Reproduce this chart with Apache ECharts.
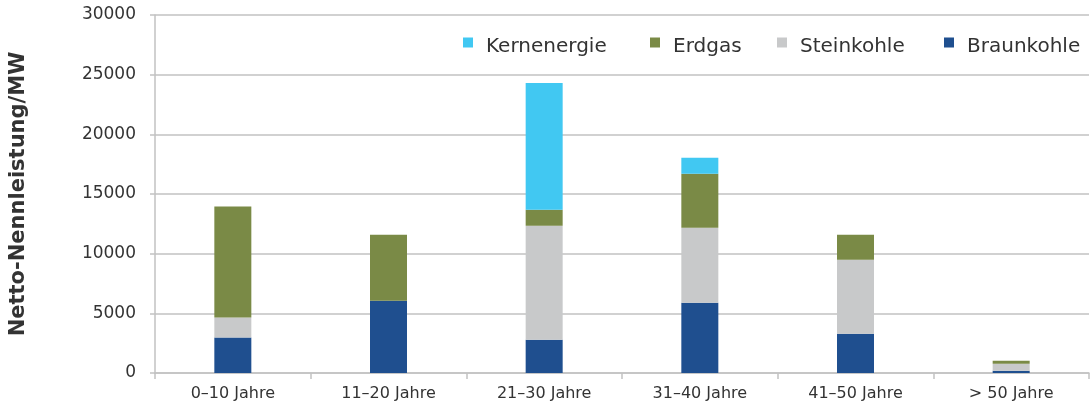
<!DOCTYPE html>
<html>
<head>
<meta charset="utf-8">
<script src="https://cdn.jsdelivr.net/npm/echarts@6/dist/echarts.min.js"></script>
<style>
  html, body { margin: 0; padding: 0; background: #fff; }
  #chart { width: 1092px; height: 405px; }
</style>
</head>
<body>
<div id="chart"></div>
<script>
// Altersstruktur der Kraftwerke, Netto-Nennleistung in MW
const categories = ['0–10 Jahre', '11–20 Jahre', '21–30 Jahre', '31–40 Jahre', '41–50 Jahre', '> 50 Jahre']
const braunkohle = [2980, 6060, 2790, 5890, 3290, 190]
const steinkohle = [1680, 0, 9550, 6280, 6200, 590]
const erdgas = [9290, 5520, 1340, 4520, 2090, 250]
const kernenergie = [0, 0, 10630, 1340, 0, 0]
const yTicks = [0, 5000, 10000, 15000, 20000, 25000, 30000]

const FONT = 'DejaVu Sans'
const TEXT = '#333333'
const GRID = '#c2c2c2'

const chart = echarts.init(document.getElementById('chart'), null, { renderer: 'canvas' })

function bar(name, data, color) {
    return {
        name: name,
        type: 'bar',
        stack: 'total',
        barWidth: 37,
        data: data,
        itemStyle: { color: color },
        emphasis: { disabled: true }
    }
}

// jede Legende einzeln platziert, damit die Abstände wie im Original sind
function legend(name, left) {
    return {
        data: [name],
        left: left,
        top: 37,
        icon: 'rect',
        itemWidth: 10,
        itemHeight: 10,
        padding: 0,
        formatter: '{a|{name}}',
        textStyle: {
            rich: {
                a: { fontSize: 20, color: TEXT, fontFamily: FONT, padding: [9, 0, 0, 8] }
            }
        }
    }
}

chart.setOption({
    animation: false,
    textStyle: { fontFamily: FONT },
    grid: { left: 155, right: 3, top: 15, bottom: 32 },
    legend: [
        legend('Kernenergie', 463),
        legend('Erdgas', 650),
        legend('Steinkohle', 777),
        legend('Braunkohle', 944)
    ],
    xAxis: {
        type: 'category',
        data: categories,
        axisLine: { lineStyle: { color: GRID, width: 1.5 } },
        axisTick: { show: true, length: 6, lineStyle: { color: GRID, width: 1.5 } },
        axisLabel: { fontSize: 16, color: TEXT, margin: 13, fontFamily: FONT }
    },
    yAxis: {
        type: 'value',
        min: yTicks[0],
        max: yTicks[yTicks.length - 1],
        interval: 5000,
        name: 'Netto-Nennleistung/MW',
        nameLocation: 'middle',
        nameGap: 126,
        nameTextStyle: { fontSize: 21, fontWeight: 'bold', color: TEXT, fontFamily: FONT },
        axisLine: { show: true, lineStyle: { color: GRID, width: 1.5 } },
        axisTick: { show: true, length: 5, lineStyle: { color: GRID, width: 1.5 } },
        axisLabel: {
            fontSize: 17, color: TEXT, margin: 19, fontFamily: FONT,
            formatter: function (v) { return String(v) }
        },
        splitLine: { lineStyle: { color: GRID, width: 1.5 } }
    },
    series: [
        bar('Braunkohle', braunkohle, '#1f4f8f'),
        bar('Steinkohle', steinkohle, '#c8c9ca'),
        bar('Erdgas', erdgas, '#7a8a46'),
        bar('Kernenergie', kernenergie, '#41c8f2')
    ]
})
</script>
</body>
</html>
